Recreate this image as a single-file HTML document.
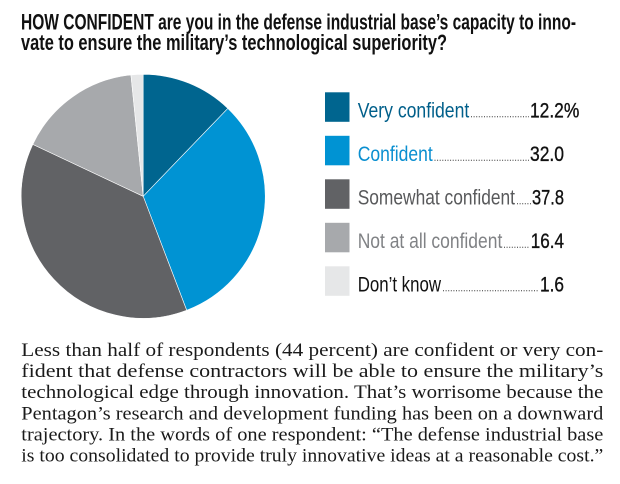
<!DOCTYPE html>
<html>
<head>
<meta charset="utf-8">
<style>
  html,body{margin:0;padding:0;background:#fff;}
  svg{display:block;}
  .t{font-family:"Liberation Sans",sans-serif;font-weight:bold;font-size:22px;fill:#111;}
  .l{font-family:"Liberation Sans",sans-serif;font-size:21px;}
  .n{font-family:"Liberation Sans",sans-serif;font-size:21px;fill:#111;stroke:#111;stroke-width:0.35;}
  .b{font-family:"Liberation Serif",serif;font-size:18.5px;fill:#1a1a1a;}
</style>
</head>
<body>
<svg width="620" height="484" viewBox="0 0 620 484" xmlns="http://www.w3.org/2000/svg">
  <!-- Title -->
  <text class="t" x="21" y="29.5" textLength="555" lengthAdjust="spacingAndGlyphs">HOW CONFIDENT are you in the defense industrial base’s capacity to inno-</text>
  <text class="t" x="21" y="50" textLength="426" lengthAdjust="spacingAndGlyphs">vate to ensure the military’s technological superiority?</text>

  <!-- Pie -->
  <g stroke="#ffffff" stroke-width="0.6" stroke-linejoin="round">
    <path d="M143.2,196.3 L143.2,74.3 A122,122 0 0 1 227.82,108.41 Z" fill="#00658f"/>
    <path d="M143.2,196.3 L227.82,108.41 A122,122 0 0 1 186.68,310.28 Z" fill="#0093d3"/>
    <path d="M143.2,196.3 L186.68,310.28 A122,122 0 0 1 32.81,144.35 Z" fill="#616265"/>
    <path d="M143.2,196.3 L32.81,144.35 A122,122 0 0 1 130.95,74.92 Z" fill="#a7a9ac"/>
    <path d="M143.2,196.3 L130.95,74.92 A122,122 0 0 1 143.2,74.3 Z" fill="#e6e7e8"/>
  </g>

  <!-- Legend swatches -->
  <rect x="325" y="92.3" width="24.5" height="29.5" fill="#00658f"/>
  <rect x="325" y="135.8" width="24.5" height="29.5" fill="#0093d3"/>
  <rect x="325" y="179.3" width="24.5" height="29.5" fill="#616265"/>
  <rect x="325" y="222.8" width="24.5" height="29.5" fill="#a7a9ac"/>
  <rect x="325" y="266.3" width="24.5" height="29.5" fill="#e6e7e8"/>

  <!-- Legend labels -->
  <text class="l" x="357.7" y="117.3" fill="#005f8a" textLength="111.6" lengthAdjust="spacingAndGlyphs">Very confident</text>
  <text class="l" x="357.7" y="160.8" fill="#0a8fd0" textLength="75" lengthAdjust="spacingAndGlyphs">Confident</text>
  <text class="l" x="357.7" y="204.3" fill="#58595b" textLength="157.3" lengthAdjust="spacingAndGlyphs">Somewhat confident</text>
  <text class="l" x="357.7" y="247.8" fill="#808285" textLength="144.6" lengthAdjust="spacingAndGlyphs">Not at all confident</text>
  <text class="l" x="357.7" y="291.3" fill="#111111" textLength="83.3" lengthAdjust="spacingAndGlyphs">Don’t know</text>

  <!-- Leader dots -->
  <g stroke="#333" stroke-width="1" stroke-dasharray="1 1.6">
    <line x1="471" y1="116.8" x2="529" y2="116.8"/>
    <line x1="434.5" y1="160.3" x2="529" y2="160.3"/>
    <line x1="517" y1="203.8" x2="531" y2="203.8"/>
    <line x1="504" y1="247.3" x2="529.5" y2="247.3"/>
    <line x1="443" y1="290.8" x2="539" y2="290.8"/>
  </g>

  <!-- Legend values -->
  <text class="n" x="530" y="117.3" textLength="49.3" lengthAdjust="spacingAndGlyphs">12.2%</text>
  <text class="n" x="530" y="160.8" textLength="34" lengthAdjust="spacingAndGlyphs">32.0</text>
  <text class="n" x="532" y="204.3" textLength="32" lengthAdjust="spacingAndGlyphs">37.8</text>
  <text class="n" x="530.7" y="247.8" textLength="33.3" lengthAdjust="spacingAndGlyphs">16.4</text>
  <text class="n" x="540" y="291.3" textLength="24" lengthAdjust="spacingAndGlyphs">1.6</text>

  <!-- Body text -->
  <text class="b" x="21.3" y="356" textLength="582" lengthAdjust="spacingAndGlyphs">Less than half of respondents (44 percent) are confident or very con-</text>
  <text class="b" x="21.3" y="377.1" textLength="582" lengthAdjust="spacingAndGlyphs">fident that defense contractors will be able to ensure the military’s</text>
  <text class="b" x="21.3" y="398.2" textLength="582" lengthAdjust="spacingAndGlyphs">technological edge through innovation. That’s worrisome because the</text>
  <text class="b" x="21.3" y="419.3" textLength="582" lengthAdjust="spacingAndGlyphs">Pentagon’s research and development funding has been on a downward</text>
  <text class="b" x="21.3" y="440.5" textLength="582" lengthAdjust="spacingAndGlyphs">trajectory. In the words of one respondent: “The defense industrial base</text>
  <text class="b" x="21.3" y="461.6" textLength="582" lengthAdjust="spacingAndGlyphs">is too consolidated to provide truly innovative ideas at a reasonable cost.”</text>
</svg>
</body>
</html>
